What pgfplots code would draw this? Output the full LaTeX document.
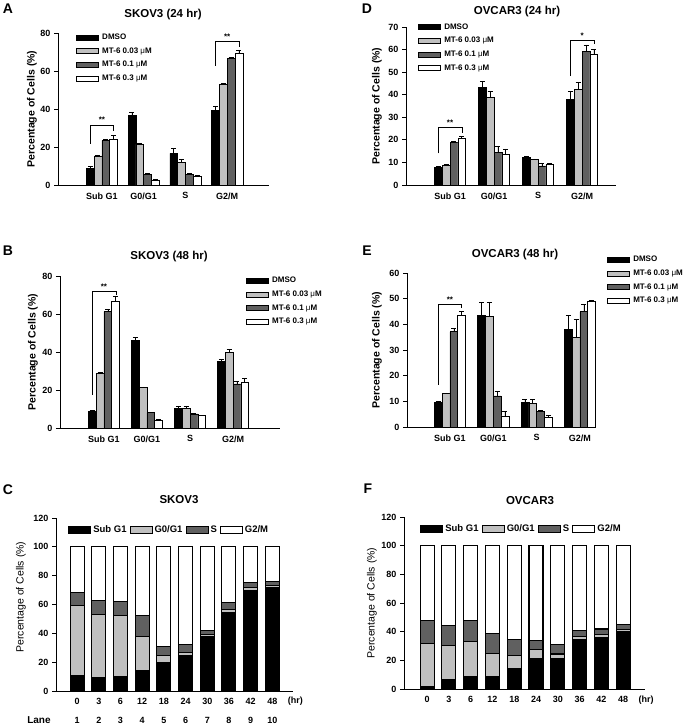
\documentclass[border=0pt]{standalone}
\usepackage{fontspec}
\setmainfont{Liberation Sans}
\usepackage{pgfplots}
\pgfplotsset{compat=1.18}
\definecolor{lgray}{RGB}{192,192,192}
\definecolor{dgray}{RGB}{96,96,96}
\newcommand{\mum}{\textmd{μ}M}
\pgfplotsset{
  panel/.style={
    scale only axis,
    axis x line=bottom, axis y line=left,
    axis line style={-, line width=0.9pt},
    ymin=0,
    tick align=outside,
    major tick length=4pt,
    xtick style={draw=none},
    ytick style={line width=0.9pt, black},
    /pgf/number format/assume math mode=true,
    tick label style={font=\fontsize{9}{10}\selectfont\bfseries},
    ylabel={Percentage of Cells (\%)},
    ylabel style={font=\fontsize{10.5}{12}\selectfont\bfseries, anchor=center},
    clip=false,
  },
  barpanel/.style={panel,
    ybar=0pt, bar width=7.8pt,
    xtick={0,1,2,3}, xticklabels={Sub G1,G0/G1,S,G2/M},
    error bars/y dir=plus, error bars/y explicit,
    error bars/error bar style={line width=0.6pt, black},
    error bars/error mark options={rotate=90, mark size=2.5pt, line width=0.6pt, black},
    legend image code/.code={\draw[#1] (0pt,-2.5pt) rectangle (22pt,2.5pt);},
    legend style={draw=none, fill=none, font=\fontsize{8}{9}\selectfont\bfseries, anchor=north west, row sep=2.6pt, inner sep=0pt,
      /tikz/every odd column/.append style={column sep=1.5pt}},
    legend cell align=left,
  },
  stackpanel/.style={panel,
    ybar stacked, bar width=14pt,
    ymax=120, ytick={0,20,...,120},
    ylabel style={font=\fontsize{10.5}{12}\selectfont\mdseries},
    legend image code/.code={\draw[#1] (0pt,-3.5pt) rectangle (22pt,3.5pt);},
    legend columns=4,
    legend style={draw=none, fill=none, font=\fontsize{9.5}{11}\selectfont\bfseries, anchor=west, inner sep=0pt,
      /tikz/every even column/.append style={column sep=1pt}},
  },
}
\begin{document}
\begin{tikzpicture}
\path[use as bounding box] (0pt,0pt) rectangle (685pt,-726pt);
\tikzset{ttl/.style={font=\fontsize{11.5}{13}\selectfont\bfseries},
         lett/.style={font=\fontsize{14}{16}\selectfont\bfseries},
         ast/.style={font=\fontsize{8}{9}\selectfont\bfseries, anchor=base}}
% titles and panel letters
\node[lett] at (8pt,-9pt) {A};
\node[ttl] at (163pt,-15pt) {SKOV3 (24 hr)};
\node[lett] at (367pt,-9pt) {D};
\node[ttl] at (517pt,-12pt) {OVCAR3 (24 hr)};
\node[lett] at (8pt,-251pt) {B};
\node[ttl] at (169pt,-257pt) {SKOV3 (48 hr)};
\node[lett] at (367pt,-251pt) {E};
\node[ttl] at (515pt,-255pt) {OVCAR3 (48 hr)};
\node[lett] at (8pt,-490pt) {C};
\node[ttl] at (179pt,-500pt) {SKOV3};
\node[lett] at (368pt,-489pt) {F};
\node[ttl] at (530pt,-501pt) {OVCAR3};

% ---------------- A ----------------
\begin{axis}[barpanel, at={(58pt,-185pt)}, anchor=south west,
  width=211pt, height=152pt, xmin=-1.05, xmax=4.0, ymax=80, ytick={0,20,...,80},
  ylabel style={at={(axis description cs:-0.123,0.5)}},
  legend style={at={(0.085,1.008)}}]
\addplot[fill=black, draw=black, line width=0.6pt] coordinates {(0,8.8) +- (0,0.8) (1,36.5) +- (0,1.6) (2,16.7) +- (0,2.4) (3,39.2) +- (0,2.0)};
\addplot[fill=lgray, draw=black, line width=0.6pt] coordinates {(0,15.3) +- (0,0.5) (1,21.4) +- (0,0.4) (2,12.0) +- (0,1.5) (3,53.0) +- (0,0.5)};
\addplot[fill=dgray, draw=black, line width=0.6pt] coordinates {(0,23.4) +- (0,0.5) (1,5.6) +- (0,0.4) (2,5.6) +- (0,0.4) (3,66.8) +- (0,0.5)};
\addplot[fill=white, draw=black, line width=0.6pt] coordinates {(0,24.2) +- (0,2.0) (1,2.6) +- (0,0.3) (2,4.7) +- (0,0.3) (3,69.4) +- (0,1.7)};
\legend{DMSO, MT-6 0.03 \mum, MT-6 0.1 \mum, MT-6 0.3 \mum}
\draw[line width=0.6pt] ([xshift=-11.6pt]axis cs:0,21.6) |- ([xshift=11.6pt]axis cs:0,31.6) -- ([xshift=11.6pt]axis cs:0,28.5);
\node[ast] at ([yshift=2pt]axis cs:0,31.6) {**};
\draw[line width=0.6pt] ([xshift=-11.6pt]axis cs:3,62.9) |- ([xshift=11.6pt]axis cs:3,75.6) -- ([xshift=11.6pt]axis cs:3,72.9);
\node[ast] at ([yshift=2pt]axis cs:3,75.6) {**};
\end{axis}

% ---------------- D ----------------
\begin{axis}[barpanel, at={(406pt,-185pt)}, anchor=south west,
  width=210pt, height=158pt, xmin=-1.0, xmax=3.77, ymax=70, ytick={0,10,...,70},
  ylabel style={at={(axis description cs:-0.138,0.5)}},
  legend style={at={(0.057,1.035)}}]
\addplot[fill=black, draw=black, line width=0.6pt] coordinates {(0,7.8) +- (0,0.3) (1,43.2) +- (0,2.8) (2,12.2) +- (0,0.4) (3,38.0) +- (0,3.5)};
\addplot[fill=lgray, draw=black, line width=0.6pt] coordinates {(0,8.8) +- (0,0.3) (1,38.8) +- (0,2.6) (2,11.2) +- (0,0.4) (3,42.3) +- (0,3.1)};
\addplot[fill=dgray, draw=black, line width=0.6pt] coordinates {(0,18.7) +- (0,0.5) (1,14.3) +- (0,2.7) (2,8.5) +- (0,1.3) (3,59.2) +- (0,2.9)};
\addplot[fill=white, draw=black, line width=0.6pt] coordinates {(0,20.9) +- (0,0.7) (1,13.6) +- (0,2.4) (2,9.0) +- (0,0.5) (3,58.1) +- (0,1.9)};
\legend{DMSO, MT-6 0.03 \mum, MT-6 0.1 \mum, MT-6 0.3 \mum}
\draw[line width=0.6pt] ([xshift=-12pt]axis cs:0,14.0) |- ([xshift=12pt]axis cs:0,25.6) -- ([xshift=12pt]axis cs:0,23.1);
\node[ast] at ([yshift=2pt]axis cs:0,25.6) {**};
\draw[line width=0.6pt] ([xshift=-12pt]axis cs:3,48.2) |- ([xshift=12pt]axis cs:3,64.1) -- ([xshift=12pt]axis cs:3,62.6);
\node[ast] at ([yshift=2pt]axis cs:3,64.1) {*};
\end{axis}

% ---------------- B ----------------
\begin{axis}[barpanel, at={(60pt,-428pt)}, anchor=south west,
  width=220pt, height=152pt, xmin=-1.02, xmax=4.09, ymax=80, ytick={0,20,...,80},
  ylabel style={at={(axis description cs:-0.123,0.5)}},
  legend style={at={(0.845,1.007)}}]
\addplot[fill=black, draw=black, line width=0.6pt] coordinates {(0,8.8) +- (0,0.4) (1,46.3) +- (0,1.4) (2,10.4) +- (0,1.2) (3,34.9) +- (0,1.2)};
\addplot[fill=lgray, draw=black, line width=0.6pt] coordinates {(0,28.8) +- (0,0.4) (1,21.2) +- (0,0.4) (2,10.4) +- (0,1.2) (3,39.8) +- (0,1.6)};
\addplot[fill=dgray, draw=black, line width=0.6pt] coordinates {(0,61.2) +- (0,1.4) (1,8.1) +- (0,0.3) (2,7.4) +- (0,0.4) (3,23.2) +- (0,1.2)};
\addplot[fill=white, draw=black, line width=0.6pt] coordinates {(0,66.5) +- (0,2.6) (1,4.2) +- (0,0.3) (2,6.5) +- (0,0.3) (3,24.0) +- (0,2.0)};
\legend{DMSO, MT-6 0.03 \mum, MT-6 0.1 \mum, MT-6 0.3 \mum}
\draw[line width=0.6pt] ([xshift=-11.9pt]axis cs:0,17.4) |- ([xshift=11.9pt]axis cs:0,72.1) -- ([xshift=11.9pt]axis cs:0,70.0);
\node[ast] at ([yshift=2pt]axis cs:0,72.1) {**};
\end{axis}

% ---------------- E ----------------
\begin{axis}[barpanel, at={(407pt,-427pt)}, anchor=south west,
  width=189pt, height=154pt, xmin=-0.99, xmax=3.37, ymax=60, ytick={0,10,...,60},
  ylabel style={at={(axis description cs:-0.159,0.5)}},
  legend style={at={(1.058,1.123)}}]
\addplot[fill=black, draw=black, line width=0.6pt] coordinates {(0,9.6) +- (0,0.3) (1,43.6) +- (0,4.8) (2,9.5) +- (0,1.4) (3,37.9) +- (0,5.7)};
\addplot[fill=lgray, draw=black, line width=0.6pt] coordinates {(0,13.0) +- (0,0.3) (1,43.2) +- (0,5.2) (2,9.2) +- (0,1.7) (3,34.9) +- (0,7.0)};
\addplot[fill=dgray, draw=black, line width=0.6pt] coordinates {(0,37.1) +- (0,1.3) (1,12.1) +- (0,1.7) (2,6.2) +- (0,0.3) (3,44.9) +- (0,2.9)};
\addplot[fill=white, draw=black, line width=0.6pt] coordinates {(0,43.5) +- (0,1.6) (1,4.3) +- (0,1.7) (2,3.6) +- (0,1.0) (3,48.8) +- (0,0.6)};
\legend{DMSO, MT-6 0.03 \mum, MT-6 0.1 \mum, MT-6 0.3 \mum}
\draw[line width=0.6pt] ([xshift=-11.8pt]axis cs:0,16.4) |- ([xshift=11.8pt]axis cs:0,47.9) -- ([xshift=11.8pt]axis cs:0,46.2);
\node[ast] at ([yshift=2pt]axis cs:0,47.9) {**};
\end{axis}

% ---------------- C ----------------
\begin{axis}[stackpanel, at={(56pt,-691pt)}, anchor=south west,
  width=237pt, height=173pt, xmin=-0.97, xmax=9.95,
  xtick={0,...,9},
  xticklabels={{0\\[8pt]1},{3\\[8pt]2},{6\\[8pt]3},{12\\[8pt]4},{18\\[8pt]5},{24\\[8pt]6},{30\\[8pt]7},{36\\[8pt]8},{42\\[8pt]9},{48\\[8pt]10}},
  xticklabel style={align=center, font=\fontsize{9}{11}\selectfont\bfseries},
  ylabel style={at={(axis description cs:-0.148,0.543)}},
  legend style={at={(0.051,0.931)}}]
\addplot[fill=black, draw=black, line width=1pt] coordinates {(0,10.9) (1,9.7) (2,10.4) (3,13.9) (4,20.1) (5,24.8) (6,38.0) (7,54.6) (8,69.9) (9,71.8)};
\addplot[fill=lgray, draw=black, line width=1pt] coordinates {(0,48.6) (1,43.5) (2,41.7) (3,23.6) (4,4.4) (5,1.8) (6,1.1) (7,1.9) (8,1.6) (9,1.1)};
\addplot[fill=dgray, draw=black, line width=1pt] coordinates {(0,9.0) (1,9.8) (2,10.2) (3,15.0) (4,6.5) (5,5.8) (6,3.0) (7,4.8) (8,3.7) (9,2.8)};
\addplot[fill=white, draw=black, line width=1pt] coordinates {(0,31.5) (1,37.0) (2,37.7) (3,47.5) (4,69.0) (5,67.6) (6,57.9) (7,38.7) (8,24.8) (9,24.3)};
\legend{Sub G1, G0/G1, S, G2/M}
\node[font=\fontsize{9}{11}\selectfont\bfseries] at (axis description cs:1.01,-0.058) {(hr)};
\node[font=\fontsize{10}{12}\selectfont\bfseries] at (axis description cs:-0.072,-0.168) {Lane};
\end{axis}

% ---------------- F ----------------
\begin{axis}[stackpanel, at={(404pt,-689pt)}, anchor=south west,
  width=241pt, height=172pt, xmin=-1.06, xmax=10.0,
  xtick={0,...,9}, xticklabels={0,3,6,12,18,24,30,36,42,48},
  xticklabel style={font=\fontsize{9}{11}\selectfont\bfseries},
  ylabel style={at={(axis description cs:-0.133,0.5)}},
  legend style={at={(0.066,0.930)}}]
\addplot[fill=black, draw=black, line width=1.2pt] coordinates {(0,1.9) (1,6.5) (2,8.8) (3,8.4) (4,14.4) (5,21.3) (6,21.3) (7,34.3) (8,36.0) (9,39.9)};
\addplot[fill=lgray, draw=black, line width=1.2pt] coordinates {(0,29.7) (1,23.7) (2,24.6) (3,16.2) (4,9.0) (5,6.1) (6,3.1) (7,2.4) (8,1.8) (9,1.4)};
\addplot[fill=dgray, draw=black, line width=1.2pt] coordinates {(0,16.2) (1,14.1) (2,14.6) (3,14.1) (4,11.4) (5,6.7) (6,6.5) (7,3.9) (8,4.0) (9,3.9)};
\addplot[fill=white, draw=black, line width=1.2pt] coordinates {(0,52.2) (1,55.7) (2,52.0) (3,61.3) (4,65.2) (5,65.9) (6,69.1) (7,59.4) (8,58.2) (9,54.8)};
\legend{Sub G1, G0/G1, S, G2/M}
\node[font=\fontsize{9}{11}\selectfont\bfseries] at (axis description cs:1.005,-0.064) {(hr)};
\end{axis}
\end{tikzpicture}
\end{document}
